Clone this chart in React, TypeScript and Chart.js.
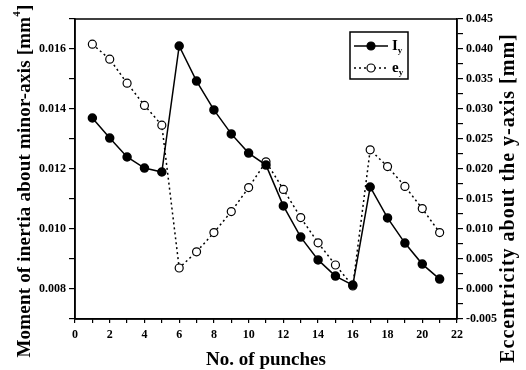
import React, { useEffect, useRef } from "react";
import { Chart, registerables } from "chart.js";
Chart.register(...registerables);

const punches = [1, 2, 3, 4, 5, 6, 7, 8, 9, 10, 11, 12, 13, 14, 15, 16, 17, 18, 19, 20, 21];
const inertia = [0.0137, 0.01303, 0.0124, 0.01203, 0.0119, 0.0161, 0.01493, 0.01397, 0.01317, 0.01253,
  0.01213, 0.01077, 0.00973, 0.00897, 0.00843, 0.00813, 0.0114, 0.01037, 0.00953, 0.00883, 0.00833];
const eccentricity = [0.0408, 0.0383, 0.0343, 0.0306, 0.0273, 0.0035, 0.0062, 0.0094, 0.0129, 0.0169,
  0.0212, 0.0166, 0.0119, 0.0077, 0.004, 0.0005, 0.0232, 0.0204, 0.0171, 0.0134, 0.0094];

const xTitle = "No. of punches";
const leftTitle = ["Moment of inertia about minor-axis [mm", "4", "]"];
const rightTitle = "Eccentricity about the y-axis [mm]";
const legendLabels = [["I", "y"], ["e", "y"]];

const FONT = "'Liberation Serif', 'Times New Roman', serif";

export default function App() {
  const ref = useRef<HTMLCanvasElement | null>(null);
  useEffect(() => {
    if (!ref.current) return;
    const overlay = {
      id: "overlay",
      afterDraw(chart: any) {
        const ctx = chart.ctx;
        const a = chart.chartArea;
        ctx.save();
        ctx.strokeStyle = "#000";
        ctx.lineWidth = 1.5;
        ctx.strokeRect(a.left, a.top, a.right - a.left, a.bottom - a.top);

        // left title
        ctx.fillStyle = "#000";
        ctx.textBaseline = "middle";
        ctx.save();
        ctx.translate(25, 181);
        ctx.rotate(-Math.PI / 2);
        ctx.letterSpacing = "0.2px";
        ctx.font = `bold 19px ${FONT}`;
        const w0 = ctx.measureText(leftTitle[0]).width;
        ctx.font = `bold 11px ${FONT}`;
        const w1 = ctx.measureText(leftTitle[1]).width;
        ctx.font = `bold 19px ${FONT}`;
        const w2 = ctx.measureText(leftTitle[2]).width;
        const sx = -(w0 + w1 + w2) / 2;
        ctx.textAlign = "left";
        ctx.fillText(leftTitle[0], sx, 0);
        ctx.font = `bold 11px ${FONT}`;
        ctx.fillText(leftTitle[1], sx + w0, -8);
        ctx.font = `bold 19px ${FONT}`;
        ctx.fillText(leftTitle[2], sx + w0 + w1, 0);
        ctx.restore();

        // right title
        ctx.save();
        ctx.translate(509, 198);
        ctx.rotate(-Math.PI / 2);
        ctx.letterSpacing = "1px";
        ctx.font = `bold 20px ${FONT}`;
        ctx.textAlign = "center";
        ctx.fillText(rightTitle, 0, 0);
        ctx.restore();

        // legend
        ctx.lineWidth = 1.5;
        ctx.strokeRect(350, 32, 58, 47);
        const rows = [46, 68];
        rows.forEach((y, i) => {
          ctx.beginPath();
          ctx.setLineDash(i === 0 ? [] : [2, 3]);
          ctx.lineWidth = 1.5;
          ctx.moveTo(354, y);
          ctx.lineTo(388, y);
          ctx.stroke();
          ctx.setLineDash([]);
          ctx.beginPath();
          ctx.arc(371, y, 4, 0, Math.PI * 2);
          ctx.fillStyle = i === 0 ? "#000" : "#fff";
          ctx.fill();
          ctx.lineWidth = 1.2;
          ctx.stroke();
          ctx.fillStyle = "#000";
          ctx.textAlign = "left";
          ctx.font = `bold 15px ${FONT}`;
          ctx.fillText(legendLabels[i][0], 392, y);
          const lw = ctx.measureText(legendLabels[i][0]).width;
          ctx.font = `bold 9px ${FONT}`;
          ctx.fillText(legendLabels[i][1], 392 + lw, y + 5);
        });
        ctx.restore();
      },
    };

    const chart = new Chart(ref.current, {
      type: "line",
      data: {
        datasets: [
          {
            label: "Iy",
            data: punches.map((p, i) => ({ x: p, y: inertia[i] })),
            yAxisID: "y",
            borderColor: "#000",
            backgroundColor: "#000",
            borderWidth: 1.5,
            pointRadius: 4,
            pointBackgroundColor: "#000",
            pointBorderColor: "#000",
            tension: 0,
          },
          {
            label: "ey",
            data: punches.map((p, i) => ({ x: p, y: eccentricity[i] })),
            yAxisID: "y1",
            borderColor: "#000",
            backgroundColor: "#fff",
            borderWidth: 1.5,
            borderDash: [2, 3],
            pointRadius: 4,
            pointBorderWidth: 1.2,
            pointBackgroundColor: "#fff",
            pointBorderColor: "#000",
            tension: 0,
          },
        ],
      },
      options: {
        responsive: false,
        animation: false,
        layout: { padding: { top: 19, left: 0, right: 0, bottom: 0 } },
        plugins: { legend: { display: false }, tooltip: { enabled: false } },
        scales: {
          x: {
            type: "linear",
            min: 0,
            max: 22,
            afterFit: (s: any) => { s.height = 51; },
            ticks: {
              stepSize: 1,
              autoSkip: false,
              maxRotation: 0,
              padding: 5,
              color: "#000",
              font: { family: FONT, size: 12, weight: "bold" },
              callback: (v: any) => (Math.round(v) % 2 === 0 ? String(Math.round(v)) : ""),
            },
            grid: { drawOnChartArea: false, drawTicks: true, tickLength: 4, color: "#000", lineWidth: 1.2 },
            border: { color: "#000", width: 1.5 },
            title: {
              display: true,
              text: xTitle,
              color: "#000",
              font: { family: FONT, size: 19, weight: "bold" },
              padding: { top: 0, bottom: -1 },
            },
          },
          y: {
            position: "left",
            min: 0.007,
            max: 0.017,
            afterFit: (s: any) => { s.width = 75; },
            ticks: {
              stepSize: 0.001,
              autoSkip: false,
              padding: 3,
              color: "#000",
              font: { family: FONT, size: 12, weight: "bold" },
              callback: (v: any) => {
                const k = Math.round(v * 1000);
                return k % 2 === 0 ? (k / 1000).toFixed(3) : "";
              },
            },
            grid: { drawOnChartArea: false, drawTicks: true, tickLength: 6, color: "#000", lineWidth: 1.2 },
            border: { color: "#000", width: 1.5 },
          },
          y1: {
            position: "right",
            min: -0.005,
            max: 0.045,
            afterFit: (s: any) => { s.width = 69; },
            ticks: {
              stepSize: 0.0025,
              autoSkip: false,
              padding: 3,
              color: "#000",
              font: { family: FONT, size: 12, weight: "bold" },
              callback: (v: any) => {
                const k = Math.round(v * 10000);
                return k % 50 === 0 ? (k / 10000).toFixed(3) : "";
              },
            },
            grid: { drawOnChartArea: false, drawTicks: true, tickLength: 6, color: "#000", lineWidth: 1.2 },
            border: { color: "#000", width: 1.5 },
          },
        },
      },
      plugins: [overlay],
    } as any);
    return () => chart.destroy();
  }, []);

  return (
    <div style={{ position: "absolute", left: 0, top: 0, width: 526, height: 370, background: "#fff" }}>
      <canvas ref={ref} width={526} height={370} />
    </div>
  );
}
